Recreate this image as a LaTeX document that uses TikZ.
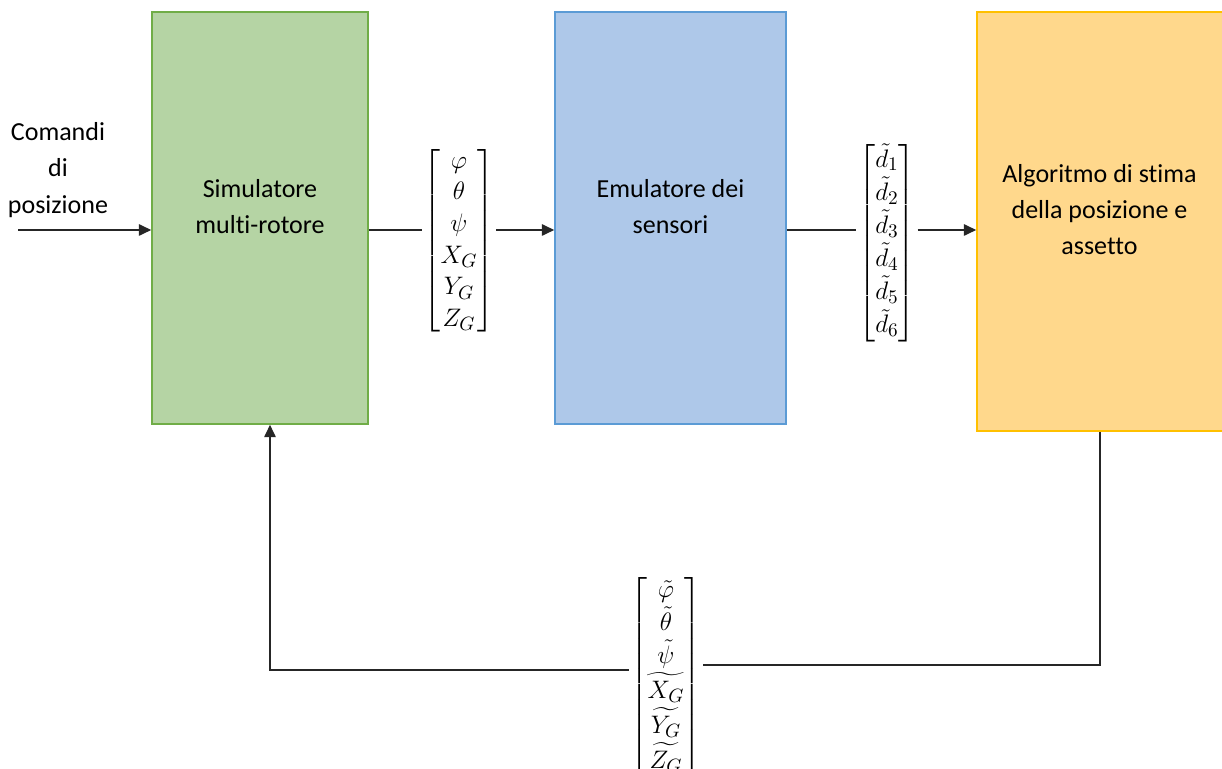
\documentclass[tikz,border=0pt]{standalone}
\usepackage{amsmath}
\usepackage{fontspec}
\setmainfont[Ligatures=NoCommon]{Carlito}
\definecolor{SimFill}{RGB}{181,212,164}
\definecolor{SimEdge}{RGB}{112,173,71}
\definecolor{EmuFill}{RGB}{174,200,233}
\definecolor{EmuEdge}{RGB}{91,155,213}
\definecolor{AlgFill}{RGB}{255,216,140}
\definecolor{AlgEdge}{RGB}{255,192,0}
\colorlet{LineDark}{black!85}
\usetikzlibrary{arrows.meta}

\tikzset{
  block/.style={draw, line width=0.9pt, inner sep=0pt, minimum height=8.24cm},
  blocktext/.style={align=center, font=\fontsize{14.8}{20.5}\selectfont},
  vec/.style={inner sep=1pt, font=\fontsize{15.5}{18}\selectfont\setlength{\arraycolsep}{1.5pt}},
  link/.style={LineDark, line width=0.8pt},
  tip/.style={-{Triangle[length=7pt,width=6.5pt]}},
}

\begin{document}
\begin{tikzpicture}

  \useasboundingbox (0,0) rectangle (24.44cm,15.38cm);

  % blocks
  \node[block, fill=SimFill, draw=SimEdge, minimum width=4.32cm] (sim) at (5.2cm,11.02cm) {};
  \node[block, fill=EmuFill, draw=EmuEdge, minimum width=4.62cm] (emu) at (13.41cm,11.02cm) {};
  \node[block, fill=AlgFill, draw=AlgEdge, minimum width=5.0cm, minimum height=8.38cm] (alg) at (22.04cm,10.95cm) {};

  \node[blocktext] (simtxt) at (5.2cm,11.24cm) {Simulatore\\multi-rotore};
  \node[blocktext] (emutxt) at (13.41cm,11.24cm) {Emulatore dei\\sensori};
  \node[blocktext] (algtxt) at (21.99cm,11.18cm) {Algoritmo di stima\\della posizione e\\assetto};
  \node[blocktext, font=\fontsize{14.8}{21}\selectfont] (cmd) at (1.16cm,11.98cm) {Comandi\\di\\posizione};

  % vectors
  \node[vec] (vstate) at (9.18cm,10.56cm)
    {$\begin{bmatrix}\varphi\\ \theta\\ \psi\\ X_G\\ Y_G\\ Z_G\end{bmatrix}$};
  \node[vec, font=\fontsize{15.5}{18.3}\selectfont\setlength{\arraycolsep}{1.5pt}] (vmeas) at (17.74cm,10.52cm)
    {$\begin{bmatrix}\tilde{d}_1\\ \tilde{d}_2\\ \tilde{d}_3\\ \tilde{d}_4\\ \tilde{d}_5\\ \tilde{d}_6\end{bmatrix}$};
  \node[vec] (vest) at (13.32cm,1.85cm)
    {$\begin{bmatrix}\tilde{\varphi}\\ \tilde{\theta}\\ \tilde{\psi}\\ \widetilde{X_G}\\ \widetilde{Y_G}\\ \widetilde{Z_G}\end{bmatrix}$};

  % connectors
  \coordinate (row) at (0,10.78cm);
  \coordinate (start) at (0.36cm,10.78cm);
  \coordinate (fbR) at (22.0cm,2.08cm);
  \coordinate (fbL) at (5.4cm,1.98cm);

  \draw[link, tip] (start) -- (sim.west |- row);
  \draw[link] (sim.east |- row) -- (vstate.west |- row);
  \draw[link, tip] (vstate.east |- row) -- (emu.west |- row);
  \draw[link] (emu.east |- row) -- (vmeas.west |- row);
  \draw[link, tip] (vmeas.east |- row) -- (alg.west |- row);

  \draw[link] (alg.south -| fbR) -- (fbR) -- (vest.east |- fbR);
  \draw[link, tip] (vest.west |- fbL) -- (fbL) -- (sim.south -| fbL);

\end{tikzpicture}
\end{document}
